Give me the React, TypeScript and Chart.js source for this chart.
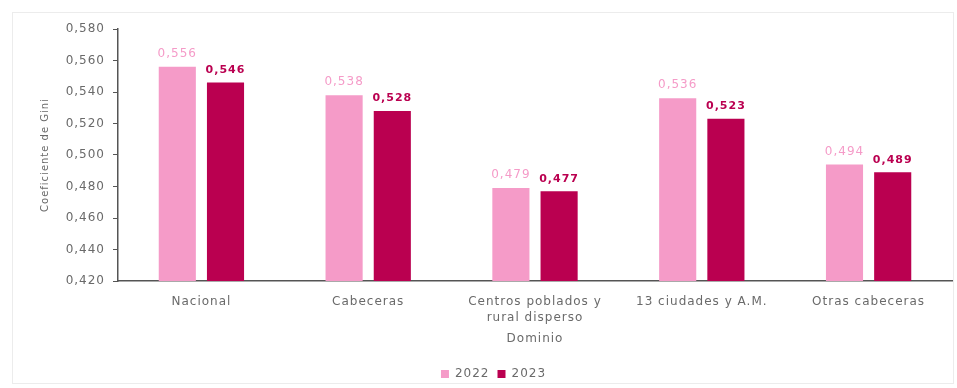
import React, { useEffect, useRef } from "react";
import { Chart, registerables } from "chart.js";

Chart.register(...registerables);

const categories: (string | string[])[] = [
  "Nacional",
  "Cabeceras",
  ["Centros poblados y", "rural disperso"],
  "13 ciudades y A.M.",
  "Otras cabeceras",
];
const values2022 = [0.556, 0.538, 0.479, 0.536, 0.494];
const values2023 = [0.546, 0.528, 0.477, 0.523, 0.489];
const seriesLabels = ["2022", "2023"];
const yMin = 0.42;
const yMax = 0.58;
const yStep = 0.02;

const PINK = "#F59BC8";
const DARK = "#BA0050";
const GRAY = "#6a6a6a";
const AXIS = "#555555";
const FONT = "'DejaVu Sans', sans-serif";
const SPACING = "1px";

const fmt = (v: number) => v.toFixed(3).replace(".", ",");

const spacingPlugin = {
  id: "spacing",
  beforeInit(chart: any) {
    chart.ctx.letterSpacing = SPACING;
  },
  beforeUpdate(chart: any) {
    chart.ctx.letterSpacing = SPACING;
  },
  beforeLayout(chart: any) {
    chart.ctx.letterSpacing = SPACING;
  },
  beforeDraw(chart: any) {
    chart.ctx.letterSpacing = SPACING;
  },
};

const valueLabels = {
  id: "valueLabels",
  afterDatasetsDraw(chart: any) {
    const ctx = chart.ctx;
    chart.data.datasets.forEach((ds: any, i: number) => {
      const meta = chart.getDatasetMeta(i);
      meta.data.forEach((bar: any, j: number) => {
        ctx.save();
        ctx.letterSpacing = SPACING;
        ctx.font = i === 1 ? "bold 11px " + FONT : "12px " + FONT;
        ctx.fillStyle = i === 1 ? DARK : PINK;
        ctx.textAlign = "center";
        ctx.textBaseline = "bottom";
        ctx.fillText(fmt(ds.data[j]), bar.x, bar.y - 7);
        ctx.restore();
      });
    });
  },
};

export default function App() {
  const ref = useRef<HTMLCanvasElement>(null);
  useEffect(() => {
    document.body.style.margin = "0";
    const chart = new Chart(ref.current!, {
      type: "bar",
      data: {
        labels: categories,
        datasets: [
          { label: seriesLabels[0], data: values2022, backgroundColor: PINK },
          { label: seriesLabels[1], data: values2023, backgroundColor: DARK },
        ],
      },
      options: {
        animation: false,
        responsive: false,
        maintainAspectRatio: false,
        layout: { padding: { left: 35, right: 5, top: 29, bottom: -2 } },
        datasets: {
          bar: { categoryPercentage: 0.578, barPercentage: 0.77 },
        },
        plugins: {
          legend: {
            position: "bottom",
            labels: {
              boxWidth: 8,
              boxHeight: 8,
              color: GRAY,
              font: { family: FONT, size: 12 },
              padding: 8,
            },
          },
          tooltip: { enabled: false },
        },
        scales: {
          x: {
            grid: { display: false, drawTicks: false },
            border: { display: true, color: AXIS, width: 1.5 },
            ticks: {
              color: GRAY,
              font: { family: FONT, size: 12, lineHeight: 1.4 },
              padding: 12,
              maxRotation: 0,
              autoSkip: false,
            },
            title: {
              display: true,
              text: "Dominio",
              color: GRAY,
              font: { family: FONT, size: 12 },
              padding: { top: -7, bottom: 14 },
            },
          },
          y: {
            min: yMin,
            max: yMax,
            grid: {
              display: true,
              drawOnChartArea: false,
              drawTicks: true,
              tickLength: 5,
              color: AXIS,
            },
            border: { display: true, color: AXIS, width: 1.5 },
            ticks: {
              stepSize: yStep,
              color: GRAY,
              font: { family: FONT, size: 12 },
              padding: 8,
              callback: (v: any) => fmt(Number(v)),
            },
            title: {
              display: true,
              text: "Coeficiente de Gini",
              color: GRAY,
              font: { family: FONT, size: 10 },
              padding: { top: 4, bottom: 0 },
            },
            afterFit: (s: any) => {
              s.width = 83;
            },
          },
        },
      },
      plugins: [spacingPlugin, valueLabels],
    });
    return () => chart.destroy();
  }, []);
  return (
    <div style={{ position: "relative", width: 957, height: 388, background: "#fff" }}>
      <div
        style={{
          position: "absolute",
          left: 12,
          top: 12,
          width: 942,
          height: 372,
          border: "1px solid #ececec",
          boxSizing: "border-box",
        }}
      />
      <canvas ref={ref} width={957} height={388} style={{ position: "absolute", left: 0, top: 0 }} />
    </div>
  );
}
